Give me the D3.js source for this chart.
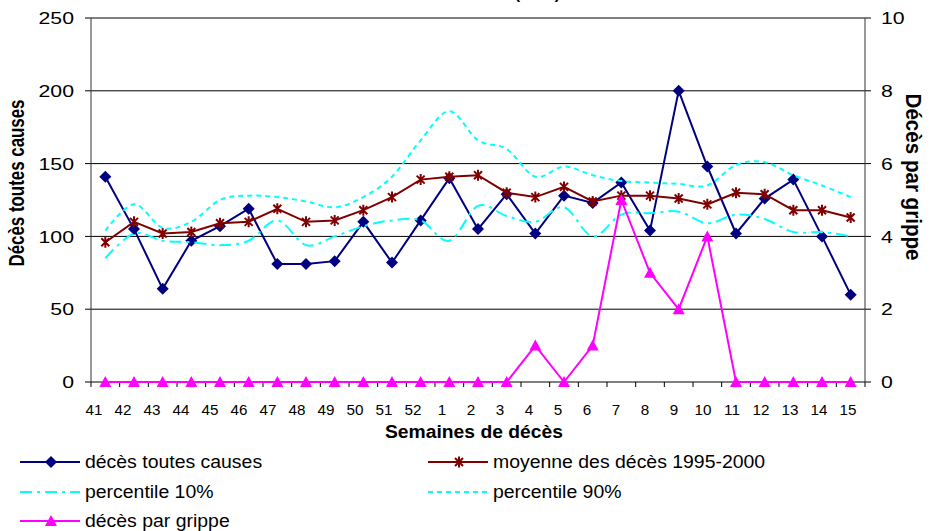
<!DOCTYPE html>
<html>
<head>
<meta charset="UTF-8">
<title>Décès hebdomadaires</title>
<script src="https://cdn.jsdelivr.net/npm/d3@7"></script>
<style>
  body { margin: 0; background: #fff; }
  svg { display: block; font-family: Arial, "Liberation Sans", sans-serif; }
</style>
</head>
<body>
<svg width="931" height="531"></svg>
<script>
// weeks 41..52 then 1..15
const weeks = ["41","42","43","44","45","46","47","48","49","50","51","52",
               "1","2","3","4","5","6","7","8","9","10","11","12","13","14","15"];
const allCauses = [141,105,64,97,107,119,81,81,83,110,82,111,
                   140,105,129,102,128,123,137,104,200,148,102,126,139,100,60];
const mean9500 = [96,110,102,103,109,110,119,110,111,118,127,139,
                  141,142,130,127,134,124,128,128,126,122,130,129,118,118,113];
const pct10 = [85,102,97,96,94,97,111,94,100,107,111,111,
               97,121,114,110,120,100,115,116,117,109,115,112,103,103,100];
const pct90 = [104,122,106,110,125,128,127,124,120,127,141,166,
               186,166,160,141,148,142,138,137,136,135,149,151,142,135,127];
const flu = [0,0,0,0,0,0,0,0,0,0,0,0,
             0,0,0,1,0,1,5,3,2,4,0,0,0,0,0];
const leftTicks = [0,50,100,150,200,250];
const rightTicks = [0,2,4,6,8,10];

const svg = d3.select("svg");
const plotL = 91, plotR = 865, plotT = 18, plotB = 382;

const x = d3.scaleBand().domain(weeks).range([plotL, plotR]);
// the category labels sit slightly off the points in the original
const xLab = d3.scalePoint().domain(weeks).range([94, 848]);
const y = d3.scaleLinear().domain([0, 250]).range([plotB, plotT]);
const y2 = d3.scaleLinear().domain([0, 10]).range([plotB, plotT]);
const cx = (d, i) => x(weeks[i]) + x.bandwidth() / 2;

// stretch text horizontally like the original (wide rendering)
function widen(sel, k) {
  sel.each(function() {
    this.setAttribute("textLength", this.getComputedTextLength() * k);
    this.setAttribute("lengthAdjust", "spacingAndGlyphs");
  });
}

// title, mostly cut off at the top edge
svg.append("text")
  .attr("x", 560).attr("y", -1)
  .attr("text-anchor", "end")
  .style("font-size", "16px").style("font-weight", "bold")
  .text("Décès hebdomadaires (nbre)");

// grid lines + outer ticks
svg.append("g").selectAll("line")
  .data(leftTicks)
  .join("line")
  .attr("x1", plotL - 6).attr("x2", plotR + 6)
  .attr("y1", d => y(d)).attr("y2", d => y(d))
  .attr("stroke", "#000").attr("stroke-width", 1);

// axis lines
svg.append("line").attr("x1", plotL).attr("x2", plotL).attr("y1", plotT).attr("y2", plotB)
  .attr("stroke", "#333");
svg.append("line").attr("x1", plotR).attr("x2", plotR).attr("y1", plotT).attr("y2", plotB)
  .attr("stroke", "#333");

// x ticks on category boundaries
svg.append("g").selectAll("line")
  .data(d3.range(weeks.length + 1))
  .join("line")
  .attr("x1", i => plotL + i * x.bandwidth()).attr("x2", i => plotL + i * x.bandwidth())
  .attr("y1", plotB).attr("y2", plotB + 5)
  .attr("stroke", "#000");

// tick labels
svg.append("g").selectAll("text")
  .data(leftTicks)
  .join("text")
  .attr("x", 74).attr("y", d => y(d)).attr("dy", "0.36em")
  .attr("text-anchor", "end")
  .style("font-size", "17px")
  .text(d => d)
  .call(widen, 1.25);

svg.append("g").selectAll("text")
  .data(rightTicks)
  .join("text")
  .attr("x", 881).attr("y", d => y2(d)).attr("dy", "0.36em")
  .style("font-size", "17px")
  .text(d => d)
  .call(widen, 1.25);

svg.append("g").selectAll("text")
  .data(weeks)
  .join("text")
  .attr("x", d => xLab(d)).attr("y", 415)
  .attr("text-anchor", "middle")
  .style("font-size", "14.5px")
  .text(d => d)
  .call(widen, 1.05);

// axis titles
svg.append("text")
  .attr("x", 474).attr("y", 438)
  .attr("text-anchor", "middle")
  .style("font-size", "18px").style("font-weight", "bold")
  .attr("textLength", 178).attr("lengthAdjust", "spacingAndGlyphs")
  .text("Semaines de décès");

svg.append("text")
  .attr("transform", "translate(24,183) rotate(-90) scale(1,1.25)")
  .attr("text-anchor", "middle")
  .style("font-size", "17px").style("font-weight", "bold")
  .attr("textLength", 167).attr("lengthAdjust", "spacingAndGlyphs")
  .text("Décès toutes causes");

svg.append("text")
  .attr("transform", "translate(906,177) rotate(90) scale(1,1.25)")
  .attr("text-anchor", "middle")
  .style("font-size", "17px").style("font-weight", "bold")
  .attr("textLength", 167).attr("lengthAdjust", "spacingAndGlyphs")
  .text("Décès par grippe");

// markers
const diamond = "M0,-6L6,0L0,6L-6,0Z";
const triangle = "M0,-6L6,5L-6,5Z";
const star = "M-4,-4L4,4M-4,4L4,-4M0,-5.5L0,5.5";

function drawSeries(values, scale, opt) {
  const line = d3.line()
    .x((d, i) => cx(null, i))
    .y(d => scale(d));
  if (opt.smooth) line.curve(d3.curveCardinal.tension(0));
  const g = svg.append("g");
  g.append("path")
    .datum(values)
    .attr("d", line)
    .attr("fill", "none")
    .attr("stroke", opt.color)
    .attr("stroke-width", 2)
    .attr("stroke-dasharray", opt.dash || null);
  if (opt.marker) {
    g.selectAll("path.m")
      .data(values)
      .join("path")
      .attr("class", "m")
      .attr("d", opt.marker)
      .attr("transform", (d, i) => `translate(${cx(null, i)},${scale(d)})`)
      .attr("fill", opt.stroked ? "none" : opt.color)
      .attr("stroke", opt.stroked ? opt.color : null)
      .attr("stroke-width", opt.stroked ? 2 : null);
  }
}

const series = [
  { name: "décès toutes causes", values: allCauses, scale: y, color: "#000080", marker: diamond },
  { name: "moyenne des décès 1995-2000", values: mean9500, scale: y, color: "#800000", marker: star, stroked: true },
  { name: "percentile 10%", values: pct10, scale: y, color: "#00FFFF", dash: "12,5,3,5", smooth: true },
  { name: "percentile 90%", values: pct90, scale: y, color: "#00FFFF", dash: "5,4", smooth: true },
  { name: "décès par grippe", values: flu, scale: y2, color: "#FF00FF", marker: triangle }
];

series.forEach(s => drawSeries(s.values, s.scale, s));

// legend
const legendPos = [[20, 462], [428, 462], [20, 492], [428, 492], [20, 521]];
series.forEach((s, i) => {
  const [lx, ly] = legendPos[i];
  const g = svg.append("g").attr("transform", `translate(${lx},${ly})`);
  g.append("line")
    .attr("x1", 0).attr("x2", 60)
    .attr("stroke", s.color).attr("stroke-width", 2)
    .attr("stroke-dasharray", s.dash || null);
  if (s.marker) {
    g.append("path")
      .attr("d", s.marker)
      .attr("transform", "translate(31,0)")
      .attr("fill", s.stroked ? "none" : s.color)
      .attr("stroke", s.stroked ? s.color : null)
      .attr("stroke-width", s.stroked ? 2 : null);
  }
  g.append("text")
    .attr("x", 65).attr("dy", "0.36em")
    .style("font-size", "17.5px")
    .text(s.name)
    .call(widen, 1.11);
});
</script>
</body>
</html>
